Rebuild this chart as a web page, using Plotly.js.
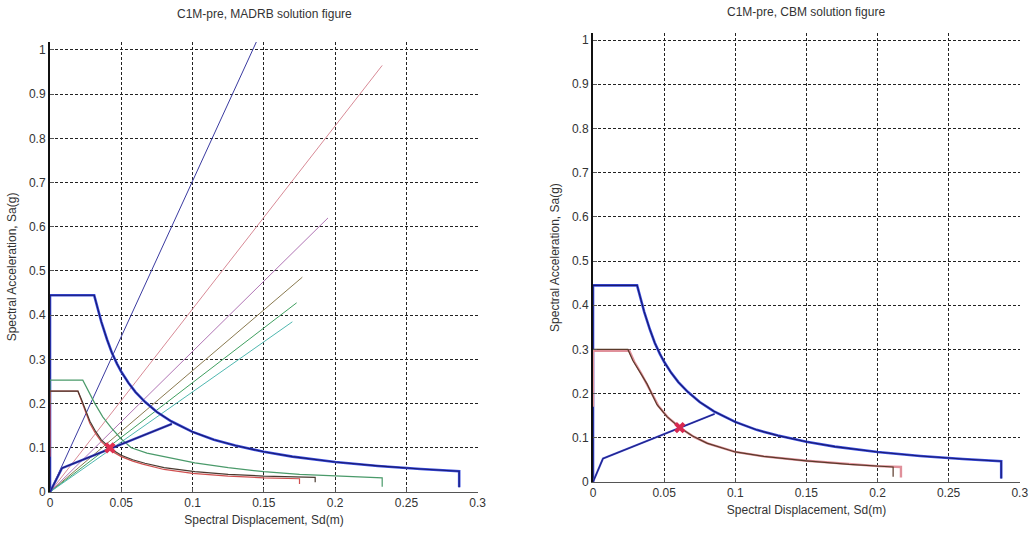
<!DOCTYPE html>
<html>
<head>
<meta charset="utf-8">
<script src="https://cdn.plot.ly/plotly-3.0.1.min.js"></script>
<style>html,body{margin:0;padding:0;background:#fff;}#chart{width:1032px;height:539px;}</style>
</head>
<body>
<div id="chart"></div>
<script>
// ---------- Left chart (MADRB) ----------
// constant-period radial lines (from origin to end point)
const periodEndSd = [0.145, 0.233, 0.195, 0.177, 0.173, 0.170];
const periodEndSa = [1.02, 0.965, 0.62, 0.486, 0.428, 0.385];
const periodColors = ['#3a3aa0', '#d88a96', '#b074b4', '#8a7a50', '#40a060', '#50b8b0'];

// 5%-damped demand spectrum (left)
const demandSdL = [0, 0, 0.031, 0.033, 0.036, 0.04, 0.0434, 0.047, 0.05, 0.055, 0.06, 0.0666, 0.075, 0.085, 0.1, 0.115, 0.13, 0.15, 0.17, 0.2, 0.23, 0.26, 0.287, 0.287];
const demandSaL = [0, 0.445, 0.445, 0.42, 0.385, 0.345, 0.315, 0.29, 0.272, 0.247, 0.226, 0.204, 0.181, 0.16, 0.136, 0.118, 0.105, 0.091, 0.08, 0.068, 0.059, 0.052, 0.047, 0.011];

// reduced demand spectra (left)
const redGreenSd = [0, 0, 0.023, 0.027, 0.0315, 0.037, 0.043, 0.05, 0.057, 0.068, 0.08, 0.1016, 0.125, 0.15, 0.175, 0.2, 0.233, 0.233];
const redGreenSa = [0.2, 0.253, 0.253, 0.228, 0.2, 0.17, 0.145, 0.12, 0.1, 0.088, 0.08, 0.066, 0.055, 0.046, 0.04, 0.036, 0.032, 0.012];
const redDarkSd = [0, 0.0196, 0.022, 0.025, 0.028, 0.032, 0.036, 0.0434, 0.05, 0.058, 0.0666, 0.08, 0.1016, 0.125, 0.15, 0.186, 0.186];
const redDarkSa = [0.228, 0.228, 0.21, 0.185, 0.16, 0.137, 0.118, 0.096, 0.083, 0.073, 0.065, 0.055, 0.046, 0.04, 0.036, 0.033, 0.022];
const redRedSd = [0, 0, 0.0196, 0.022, 0.025, 0.028, 0.032, 0.036, 0.043, 0.05, 0.058, 0.065, 0.08, 0.1, 0.125, 0.15, 0.175, 0.175];
const redRedSa = [0.08, 0.228, 0.228, 0.207, 0.18, 0.155, 0.132, 0.114, 0.093, 0.08, 0.07, 0.063, 0.051, 0.042, 0.036, 0.032, 0.03, 0.018];

// capacity curve (left)
const capSdL = [0, 0.0084, 0.0855];
const capSaL = [0, 0.054, 0.154];
const perfSdL = [0.042];
const perfSaL = [0.1];

// ---------- Right chart (CBM) ----------
const demandSdR = [0, 0, 0.031, 0.033, 0.036, 0.04, 0.0434, 0.047, 0.05, 0.055, 0.06, 0.0666, 0.075, 0.085, 0.1, 0.115, 0.13, 0.15, 0.17, 0.2, 0.23, 0.26, 0.287, 0.287];
const demandSaR = [0, 0.445, 0.445, 0.42, 0.385, 0.345, 0.315, 0.29, 0.272, 0.247, 0.226, 0.204, 0.181, 0.16, 0.136, 0.118, 0.105, 0.091, 0.08, 0.068, 0.059, 0.052, 0.047, 0.008];
const redPinkSd = [0, 0, 0.0255, 0.029, 0.034, 0.039, 0.046, 0.053, 0.062, 0.071, 0.081, 0.1, 0.12, 0.15, 0.18, 0.2, 0.2165, 0.2165];
const redPinkSa = [0.17, 0.297, 0.297, 0.272, 0.245, 0.215, 0.172, 0.145, 0.121, 0.102, 0.087, 0.068, 0.058, 0.048, 0.04, 0.036, 0.034, 0.01];
const redBrownSd = [0, 0.0245, 0.028, 0.033, 0.038, 0.045, 0.052, 0.061, 0.07, 0.08, 0.1, 0.12, 0.15, 0.18, 0.2, 0.211, 0.211];
const redBrownSa = [0.3, 0.3, 0.275, 0.25, 0.222, 0.175, 0.148, 0.123, 0.104, 0.088, 0.068, 0.058, 0.048, 0.04, 0.036, 0.034, 0.012];
const capSdR = [0, 0.007, 0.0855];
const capSaR = [0, 0.053, 0.154];
const perfSdR = [0.061];
const perfSaR = [0.123];

const tickVals = [0, 0.05, 0.1, 0.15, 0.2, 0.25, 0.3];
const tickText = ['0', '0.05', '0.1', '0.15', '0.2', '0.25', '0.3'];
const yTickVals = [0, 0.1, 0.2, 0.3, 0.4, 0.5, 0.6, 0.7, 0.8, 0.9, 1];
const yTickText = ['0', '0.1', '0.2', '0.3', '0.4', '0.5', '0.6', '0.7', '0.8', '0.9', '1'];

const titleLeft = 'C1M-pre, MADRB solution figure';
const titleRight = 'C1M-pre, CBM solution figure';
const xTitle = 'Spectral Displacement, Sd(m)';
const yTitle = 'Spectral Acceleration, Sa(g)';

const traces = [];
function line(x, y, color, width, xa, ya) {
  traces.push({x: x, y: y, type: 'scatter', mode: 'lines', xaxis: xa, yaxis: ya,
    line: {color: color, width: width}, hoverinfo: 'skip', showlegend: false});
}
// left radial lines
for (let i = 0; i < periodEndSd.length; i++) {
  line([0, periodEndSd[i]], [0, periodEndSa[i]], periodColors[i], 1, 'x', 'y');
}
line(demandSdL, demandSaL, '#3a4ee0', 2.6, 'x', 'y');
line(demandSdL, demandSaL, '#1a1a70', 1.1, 'x', 'y');
line(redGreenSd, redGreenSa, '#4a9a6a', 1.2, 'x', 'y');
line(redRedSd, redRedSa, '#d05050', 1.2, 'x', 'y');
line(redDarkSd, redDarkSa, '#4a3a30', 1.2, 'x', 'y');
line(capSdL, capSaL, '#3a44c8', 2.4, 'x', 'y');
line(capSdL, capSaL, '#1a1a70', 1, 'x', 'y');
traces.push({x: perfSdL, y: perfSaL, type: 'scatter', mode: 'markers', xaxis: 'x', yaxis: 'y',
  marker: {symbol: 'x', size: 10, color: '#e03050'}, hoverinfo: 'skip', showlegend: false});

// right chart
line(demandSdR, demandSaR, '#3a4ee0', 2.6, 'x2', 'y2');
line(demandSdR, demandSaR, '#1a1a70', 1.1, 'x2', 'y2');
line(redPinkSd, redPinkSa, '#e0909a', 2.4, 'x2', 'y2');
line(redBrownSd, redBrownSa, '#5a3a2a', 1.2, 'x2', 'y2');
line(capSdR, capSaR, '#3a44c8', 2, 'x2', 'y2');
line(capSdR, capSaR, '#1a1a70', 0.8, 'x2', 'y2');
traces.push({x: perfSdR, y: perfSaR, type: 'scatter', mode: 'markers', xaxis: 'x2', yaxis: 'y2',
  marker: {symbol: 'x', size: 10, color: '#d82850'}, hoverinfo: 'skip', showlegend: false});

const font = {family: 'Liberation Sans, Arial, sans-serif', size: 12, color: '#333'};
function xAxis(domain, anchor) {
  return {domain: domain, anchor: anchor, range: [0, 0.3002], tickvals: tickVals, ticktext: tickText,
    showgrid: true, gridcolor: '#222', griddash: '3px,2px', gridwidth: 1,
    showline: true, linecolor: '#555', linewidth: 1, zeroline: false,
    ticks: 'inside', ticklen: 4, tickcolor: '#555', tickfont: font,
    title: {text: xTitle, font: font, standoff: 6}};
}
function yAxis(domain, anchor, top) {
  return {domain: domain, anchor: anchor, range: [0, top], tickvals: yTickVals, ticktext: yTickText,
    showgrid: true, gridcolor: '#222', griddash: '3px,2px', gridwidth: 1,
    showline: true, linecolor: '#111', linewidth: 2, zeroline: false,
    ticks: 'inside', ticklen: 4, tickcolor: '#555', tickfont: font,
    title: {text: yTitle, font: font, standoff: 10}};
}

const layout = {
  width: 1032, height: 539,
  margin: {l: 0, r: 0, t: 0, b: 0},
  paper_bgcolor: '#fff', plot_bgcolor: '#fff',
  showlegend: false,
  xaxis: xAxis([50/1032, 478/1032], 'y'),
  yaxis: yAxis([(539-492)/539, (539-42)/539], 'x', 1.018),
  xaxis2: xAxis([593/1032, 1020/1032], 'y2'),
  yaxis2: yAxis([(539-482)/539, (539-33)/539], 'x2', 1.016),
  annotations: [
    {text: titleLeft, x: 264/1032, y: 1 - 14/539, xref: 'paper', yref: 'paper', xanchor: 'center', yanchor: 'middle', showarrow: false, font: font},
    {text: titleRight, x: 806/1032, y: 1 - 12/539, xref: 'paper', yref: 'paper', xanchor: 'center', yanchor: 'middle', showarrow: false, font: font}
  ]
};

Plotly.newPlot('chart', traces, layout, {staticPlot: true, displayModeBar: false});
</script>
</body>
</html>
